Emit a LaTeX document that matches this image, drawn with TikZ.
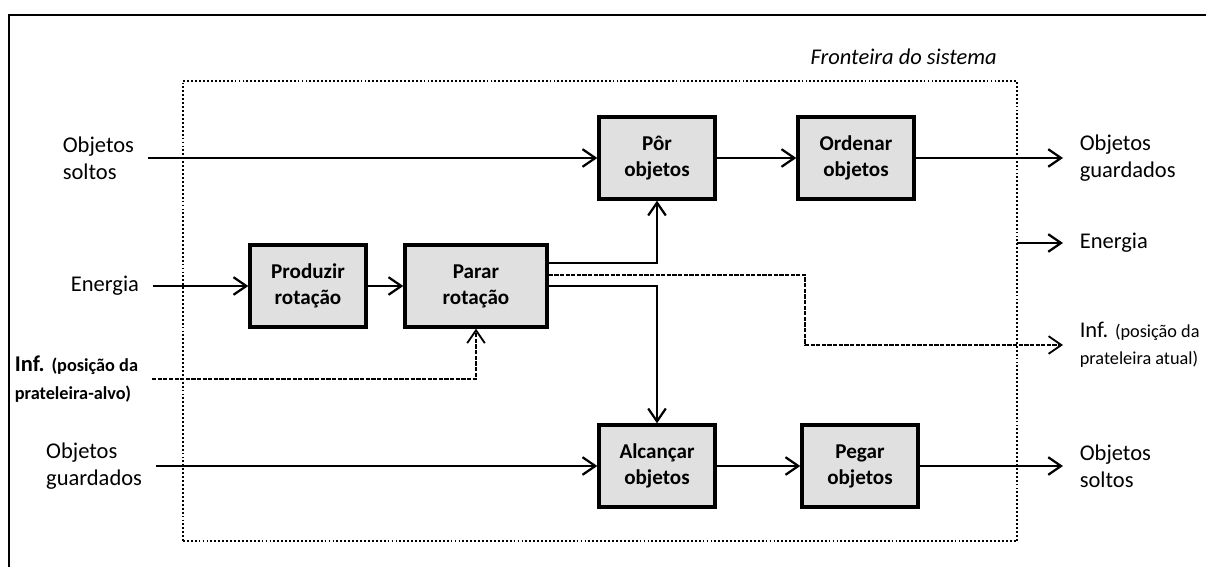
\documentclass[tikz,border=0pt]{standalone}
\usepackage{fontspec}
\setmainfont{Carlito}
\usetikzlibrary{arrows.meta,positioning,calc}

\begin{document}
\begin{tikzpicture}[
    x=0.025cm, y=-0.025cm,
    every node/.style={font=\fontsize{16}{19.5}\selectfont},
    box/.style={draw=black, line width=2.4pt, rectangle, fill=black!12,
                inner sep=2pt, minimum width=2.9cm, minimum height=2.05cm,
                align=center, font=\fontsize{15}{18.5}\selectfont\bfseries},
    inlbl/.style={anchor=east, align=left, inner sep=0pt, outer sep=0.35cm},
    outlbl/.style={anchor=west, align=left, inner sep=0pt, outer sep=0.42cm},
    fronteira/.style={draw=black, line width=1.4pt, rectangle,
                dash pattern=on 1.3pt off 1.5pt, inner sep=0pt, outer sep=0pt,
                minimum width=20.85cm, minimum height=11.5cm},
    arrow/.style={-{Straight Barb[length=3.2mm,width=4.4mm]}, line width=1.6pt},
    infoarrow/.style={arrow, line width=1.3pt, dash pattern=on 3pt off 1pt},
    frame/.style={line width=1.5pt}
]
  \useasboundingbox (0,0) rectangle (1206,567);

  % --- moldura e fronteira do sistema ---
  \draw[frame] (9,567) -- (9,15) -- (1206,15);
  \node[fronteira] (sistema) at (600,311) {};
  \node[anchor=base east, inner sep=0pt, font=\fontsize{16}{19.5}\selectfont\itshape]
    (lblFronteira) at ([xshift=-0.5cm, yshift=0.42cm]sistema.north east) {Fronteira do sistema};

  % --- funcoes ---
  \node[box] (por)      at (657,158) {Pôr\\objetos};
  \node[box] (ordenar)  at (856,158) {Ordenar\\objetos};
  \node[box] (produzir) at (308,286) {Produzir\\rotação};
  \node[box, minimum width=3.55cm] (parar) at (476,286) {Parar\\rotação};
  \node[box] (alcancar) at (657,466) {Alcançar\\objetos};
  \node[box] (pegar)    at (860,466) {Pegar\\objetos};

  % --- entradas ---
  \node[inlbl] (inSoltos)    at (148,158) {Objetos\\soltos};
  \node[inlbl] (inEnergia)   at (153,286) {Energia};
  \node[inlbl, font=\fontsize{16}{19.5}\selectfont\bfseries] (inInf) at (152,379)
    {Inf. {\fontsize{13}{19.5}\selectfont(posição da}\\{\fontsize{13}{19.5}\selectfont prateleira-alvo)}};
  \node[inlbl] (inGuardados) at (156,466) {Objetos\\guardados};

  % --- saidas ---
  \node[outlbl] (outGuardados) at (1063,158) {Objetos\\guardados};
  \node[outlbl] (outEnergia)   at (1063,243) {Energia};
  \node[outlbl] (outInf)       at (1063,345)
    {Inf. {\fontsize{13}{19.5}\selectfont(posição da}\\{\fontsize{13}{19.5}\selectfont prateleira atual)}};
  \node[outlbl] (outSoltos)    at (1063,466) {Objetos\\soltos};
  \coordinate (desvio) at (805,345);

  % --- fluxo superior ---
  \draw[arrow] (inSoltos.east) -- (por.west);
  \draw[arrow] (por) -- (ordenar);
  \draw[arrow] (ordenar) -- (outGuardados.west);

  % --- energia ---
  \draw[arrow] (inEnergia.east) -- (produzir.west);
  \draw[arrow] (produzir) -- (parar);
  \draw[arrow] ([yshift=0.575cm]parar.east) -| (por.south);
  \draw[arrow] (parar.east) -| (alcancar.north);
  \draw[arrow] (sistema.east |- outEnergia) -- (outEnergia.west);

  % --- informacao ---
  \draw[infoarrow] (inInf.east) -| (parar.south);
  \draw[infoarrow] ([yshift=0.275cm]parar.east) -| (desvio) -- (outInf.west);

  % --- fluxo inferior ---
  \draw[arrow] (inGuardados.east) -- (alcancar.west);
  \draw[arrow] (alcancar) -- (pegar);
  \draw[arrow] (pegar) -- (outSoltos.west);
\end{tikzpicture}
\end{document}
